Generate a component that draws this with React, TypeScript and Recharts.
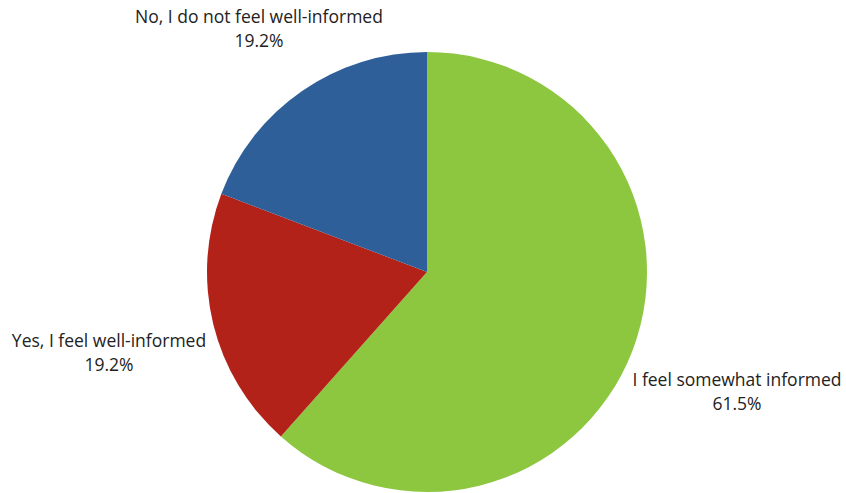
import { PieChart, Pie, Cell } from "recharts";

const categories = ["I feel somewhat informed", "Yes, I feel well-informed", "No, I do not feel well-informed"];
const shares = [61.5, 19.2, 19.2];
const colors = ["#8DC63F", "#B22219", "#2E5F98"];

// label offset from the pie centre, tuned per slice (first line baseline)
const labelDx = [310, -318, -168];
const labelDy = [114, 75, -249];

const data = categories.map((name, i) => ({ name, value: shares[i] }));

const renderLabel = (props: any) => {
  const { cx, cy, index } = props;
  const x = cx + labelDx[index];
  const y = cy + labelDy[index];
  return (
    <text x={x} y={y} textAnchor="middle" fill="#222" fontSize={17.5} fontFamily="Open Sans">
      <tspan x={x} dy={0}>{data[index].name}</tspan>
      <tspan x={x} dy={24}>{data[index].value.toFixed(1)}%</tspan>
    </text>
  );
};

export default function App() {
  return (
    <div style={{ position: "fixed", left: 0, top: 0, width: 846, height: 493, background: "#fff" }}>
      <PieChart width={846} height={493} margin={{ top: 0, right: 0, bottom: 0, left: 0 }}>
        <Pie
          data={data}
          dataKey="value"
          cx={427}
          cy={272}
          outerRadius={220}
          startAngle={90}
          endAngle={-270}
          stroke="none"
          label={renderLabel}
          labelLine={false}
          isAnimationActive={false}
        >
          {data.map((d, i) => (
            <Cell key={d.name} fill={colors[i]} />
          ))}
        </Pie>
      </PieChart>
    </div>
  );
}
